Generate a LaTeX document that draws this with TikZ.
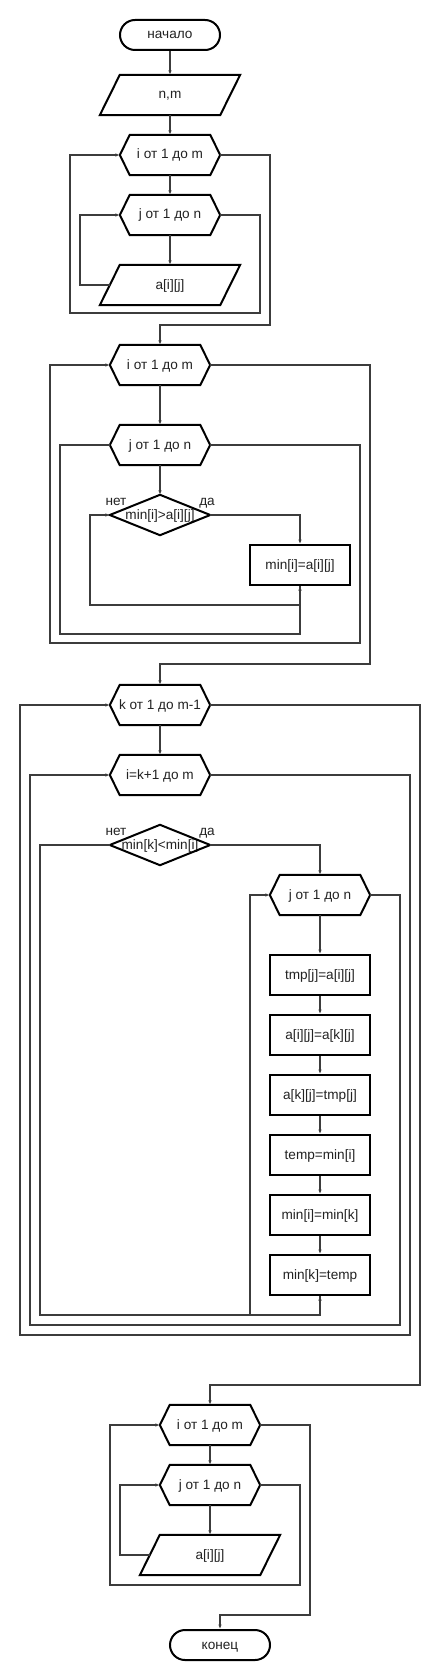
\documentclass[tikz,border=0pt]{standalone}
\usepackage{fontspec}
\setmainfont{Liberation Sans}
\usetikzlibrary{arrows.meta,calc}
\definecolor{lc}{HTML}{3C3C3C}
\definecolor{tc}{HTML}{222222}
\tikzset{
  conn/.style={draw=lc, line width=1.3pt, -{Latex[length=4.5pt,width=3.5pt]}},
  shp/.style={draw=black, line width=2pt},
  box/.style={inner sep=0pt, minimum width=100pt, minimum height=40pt,
    font=\fontsize{13.6}{15}\selectfont, text=tc, text height=10pt, text depth=2pt},
  rbox/.style={box, shp},
  term/.style={box, shp, minimum height=30pt, rounded corners=15pt},
  lbl/.style={inner sep=0pt, anchor=base, font=\fontsize{13.6}{15}\selectfont, text=tc},
}
\newcommand\fcHex[4]{%
  \node[box] (#1) at (#2,#3) {#4};
  \draw[shp] ([xshift=10pt]#1.north west) -- ([xshift=-10pt]#1.north east) -- (#1.east)
    -- ([xshift=-10pt]#1.south east) -- ([xshift=10pt]#1.south west) -- (#1.west) -- cycle;}
\newcommand\fcPara[4]{%
  \node[box, minimum width=140pt] (#1) at (#2,#3) {#4};
  \draw[shp] ([xshift=20pt]#1.north west) -- (#1.north east)
    -- ([xshift=-20pt]#1.south east) -- (#1.south west) -- cycle;
  \coordinate (#1-l) at ([xshift=10pt]#1.west);}
\newcommand\fcDia[4]{%
  \node[box] (#1) at (#2,#3) {#4};
  \draw[shp] (#1.north) -- (#1.east) -- (#1.south) -- (#1.west) -- cycle;}
\begin{document}
\begin{tikzpicture}[x=1pt, y=-1pt]
\fill[white] (0,0) rectangle (440,1680);
\useasboundingbox (0,0) rectangle (440,1680);

% ---------- section 1: input
\node[term] (start) at (170,35) {начало};
\fcPara{in1}{170}{95}{n,m}
\fcHex{h1}{170}{155}{i от 1 до m}
\fcHex{h2}{170}{215}{j от 1 до n}
\fcPara{p1}{170}{285}{a[i][j]}

\draw[conn] (start.south) -- (in1.north);
\draw[conn] (in1.south) -- (h1.north);
\draw[conn] (h1.south) -- (h2.north);
\draw[conn] (h2.south) -- (p1.north);
\draw[conn] (p1-l) -- (80,285) |- (h2.west);
\draw[conn] (h2.east) -| (260,313) -- (70,313) |- (h1.west);

% ---------- section 2: minima
\fcHex{h3}{160}{365}{i от 1 до m}
\fcHex{h4}{160}{445}{j от 1 до n}
\fcDia{d1}{160}{515}{min[i]>a[i][j]}
\node[rbox] (b1) at (300,565) {min[i]=a[i][j]};
\node[lbl] (no1) at (116,505.5) {нет};
\node[lbl] (yes1) at (207,505.5) {да};

\draw[conn] (h1.east) -| (270,325) -| (h3.north);
\draw[conn] (h3.south) -- (h4.north);
\draw[conn] (h4.south) -- (d1.north);
\draw[conn] (d1.east) -| (b1.north);
\draw[conn] (h4.west) -| (60,634) -| (b1.south);
\draw[conn] (b1.south) |- (90,605) |- (d1.west);
\draw[conn] (h4.east) -| (360,643) -- (50,643) |- (h3.west);

% ---------- section 3: sorting
\fcHex{h5}{160}{705}{k от 1 до m-1}
\fcHex{h6}{160}{775}{i=k+1 до m}
\fcDia{d2}{160}{845}{min[k]<min[i]}
\node[lbl] (no2) at (116,835.5) {нет};
\node[lbl] (yes2) at (207,835.5) {да};
\fcHex{h7}{320}{895}{j от 1 до n}
\node[rbox] (b2) at (320,975) {tmp[j]=a[i][j]};
\node[rbox] (b3) at (320,1035) {a[i][j]=a[k][j]};
\node[rbox] (b4) at (320,1095) {a[k][j]=tmp[j]};
\node[rbox] (b5) at (320,1155) {temp=min[i]};
\node[rbox] (b6) at (320,1215) {min[i]=min[k]};
\node[rbox] (b7) at (320,1275) {min[k]=temp};

\draw[conn] (h3.east) -| (370,664) -| (h5.north);
\draw[conn] (h5.south) -- (h6.north);
\draw[conn] (d2.east) -| (h7.north);
\draw[conn] (h7.south) -- (b2.north);
\draw[conn] (b2.south) -- (b3.north);
\draw[conn] (b3.south) -- (b4.north);
\draw[conn] (b4.south) -- (b5.north);
\draw[conn] (b5.south) -- (b6.north);
\draw[conn] (b6.south) -- (b7.north);
\draw[conn] (d2.west) -| (40,1315) -| (b7.south);
\draw[conn] (b7.south) |- (250,1315) |- (h7.west);
\draw[conn] (h7.east) -| (400,1325) -- (30,1325) |- (h6.west);
\draw[conn] (h6.east) -| (410,1335) -- (20,1335) |- (h5.west);

% ---------- section 4: output
\fcHex{h8}{210}{1425}{i от 1 до m}
\fcHex{h9}{210}{1485}{j от 1 до n}
\fcPara{p2}{210}{1555}{a[i][j]}
\node[term] (fin) at (220,1645) {конец};

\draw[conn] (h5.east) -| (420,1385) -| (h8.north);
\draw[conn] (h8.south) -- (h9.north);
\draw[conn] (h9.south) -- (p2.north);
\draw[conn] (p2-l) -- (120,1555) |- (h9.west);
\draw[conn] (h9.east) -| (300,1585) -- (110,1585) |- (h8.west);
\draw[conn] (h8.east) -| (310,1615) -| (fin.north);
\end{tikzpicture}
\end{document}
